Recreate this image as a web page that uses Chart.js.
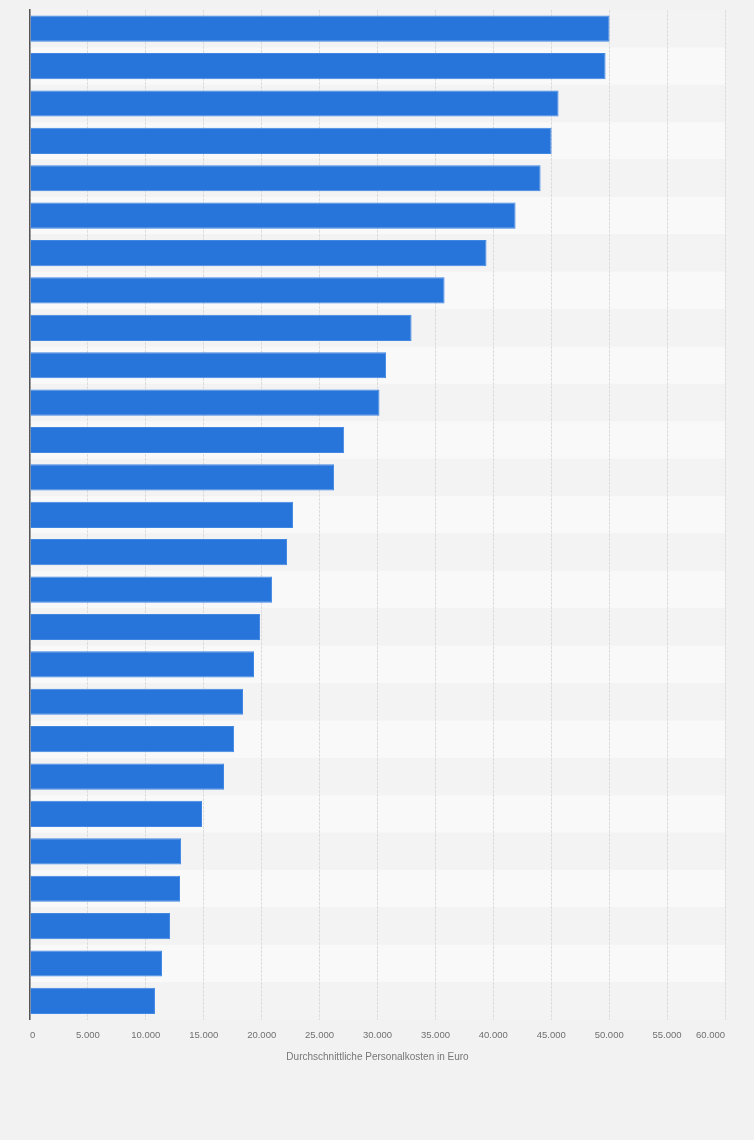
<!DOCTYPE html>
<html>
<head>
<meta charset="utf-8">
<script src="https://cdn.jsdelivr.net/npm/chart.js@4/dist/chart.umd.min.js"></script>
<style>
  html, body { margin: 0; padding: 0; background: #f2f2f2; }
  #wrap { width: 754px; height: 1140px; position: relative; }
</style>
</head>
<body>
<div id="wrap"><canvas id="chart"></canvas></div>
<script>
// Rang der Kategorien (im Original ohne sichtbare Beschriftung)
const categories = [
  "1", "2", "3", "4", "5", "6", "7", "8", "9", "10", "11", "12", "13", "14",
  "15", "16", "17", "18", "19", "20", "21", "22", "23", "24", "25", "26", "27"
];

// Durchschnittliche Personalkosten in Euro
const personalkosten = [
  50030, 49690, 45630, 45030, 44080, 41920, 39410, 35790, 32940, 30740,
  30170, 27120, 26250, 22710, 22190, 20900, 19860, 19340, 18390, 17620,
  16750, 14850, 13040, 12950, 12090, 11400, 10790
];

const xMin = 0;
const xMax = 60000;
const xStep = 5000;
const axisTitle = "Durchschnittliche Personalkosten in Euro";

// Zahlen mit Punkt als Tausendertrennzeichen
function formatNumber(v) {
  return String(Math.round(v)).replace(/\B(?=(\d{3})+(?!\d))/g, ".");
}

// abwechselnde Zeilenstreifen hinter den Balken
const rowBands = {
  id: "rowBands",
  beforeDraw(chart) {
    const { ctx, chartArea, scales } = chart;
    const y = scales.y;
    const half = (chartArea.bottom - chartArea.top) / categories.length / 2;
    ctx.save();
    categories.forEach((c, i) => {
      const mid = y.getPixelForValue(i);
      ctx.fillStyle = i % 2 === 0 ? "#f3f3f3" : "#f9f9f9";
      ctx.fillRect(chartArea.left, mid - half, chartArea.right - chartArea.left, half * 2);
    });
    ctx.restore();
  }
};

new Chart(document.getElementById("chart"), {
  type: "bar",
  data: {
    labels: categories,
    datasets: [{
      data: personalkosten,
      backgroundColor: "#2775db",
      borderColor: "#4187e4",
      borderWidth: 1,
      barPercentage: 0.7,
      categoryPercentage: 1.0
    }]
  },
  plugins: [rowBands],
  options: {
    indexAxis: "y",
    responsive: true,
    maintainAspectRatio: false,
    animation: false,
    layout: { padding: { left: 30, right: 29, top: 10, bottom: 77 } },
    plugins: {
      legend: { display: false },
      tooltip: { enabled: false }
    },
    scales: {
      x: {
        min: xMin,
        max: xMax,
        border: { display: false, dash: [3, 1] },
        grid: {
          color: "#dcdcdc",
          lineWidth: 1,
          drawTicks: false
        },
        ticks: {
          stepSize: xStep,
          align: "inner",
          padding: 10,
          color: "#707070",
          font: { family: "Liberation Sans, Arial, sans-serif", size: 9.5 },
          callback: (v) => formatNumber(v)
        },
        title: {
          display: true,
          text: axisTitle,
          color: "#777",
          padding: { top: 0, bottom: 0 },
          font: { family: "Liberation Sans, Arial, sans-serif", size: 10 }
        }
      },
      y: {
        grid: { display: false, drawTicks: false },
        border: { display: true, color: "#555", width: 1.5 },
        ticks: { display: false }
      }
    }
  }
});
</script>
</body>
</html>
